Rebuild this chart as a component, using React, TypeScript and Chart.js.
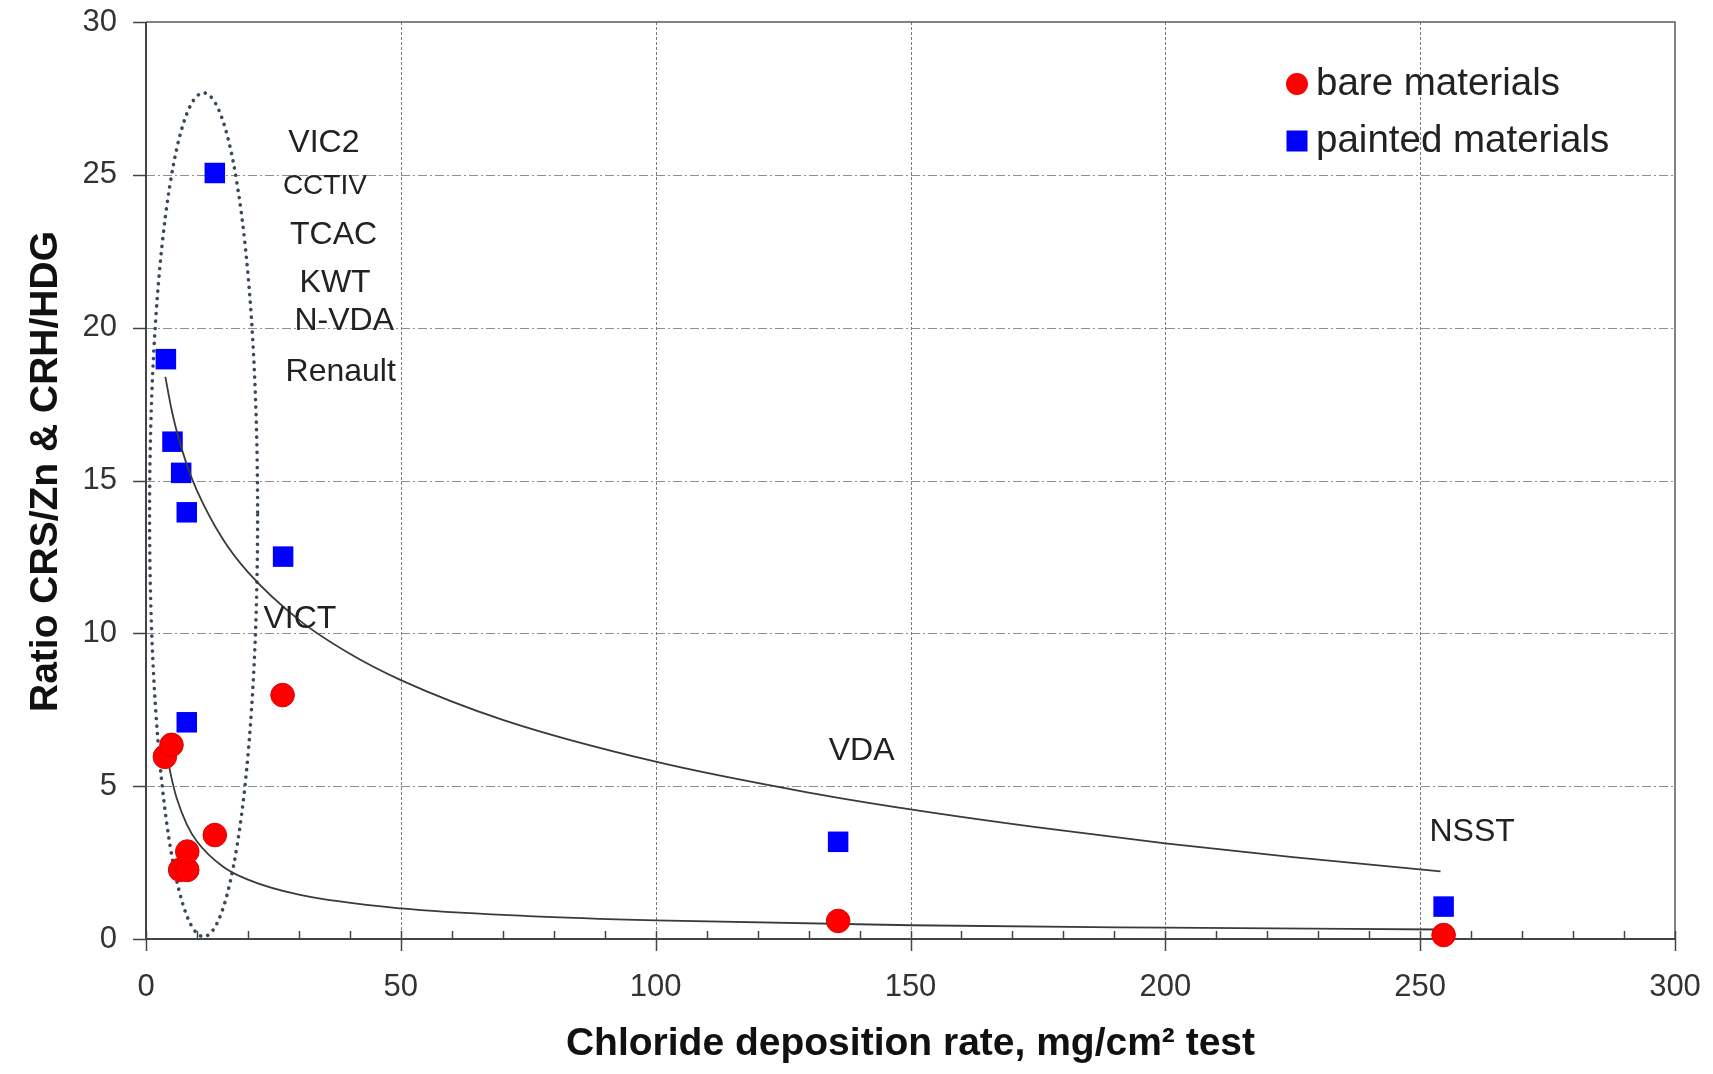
import React, { useEffect, useRef } from 'react';
import { Chart, registerables } from 'chart.js';

Chart.register(...registerables);

// ---- data ----
const bareX = [3.7, 5.0, 6.7, 8.1, 8.1, 13.5, 26.8, 135.8, 254.6];
const bareY = [5.96, 6.35, 2.26, 2.26, 2.86, 3.4, 7.98, 0.59, 0.13];

const paintedX = [13.5, 3.9, 5.2, 6.9, 8.0, 26.9, 8.0, 135.8, 254.6];
const paintedY = [25.06, 18.97, 16.27, 15.25, 13.96, 12.51, 7.09, 3.18, 1.06];

const trendPaintedX = [3.8, 5, 6, 8, 10, 15, 20, 30, 40, 50, 70, 100, 130, 150, 175, 200, 225, 254];
const trendPaintedY = [18.39, 17.33, 16.63, 15.52, 14.67, 13.1, 12.0, 10.44, 9.33, 8.47, 7.17, 5.8, 4.79, 4.24, 3.65, 3.13, 2.68, 2.21];

const trendBareX = [4.4, 5, 6, 8, 10, 15, 20, 30, 50, 75, 100, 150, 200, 254];
const trendBareY = [5.77, 5.27, 4.62, 3.75, 3.19, 2.38, 1.94, 1.45, 1.0, 0.75, 0.61, 0.45, 0.37, 0.31];

const annotationTexts = ['VIC2', 'CCTIV', 'TCAC', 'KWT', 'N-VDA', 'Renault', 'VICT', 'VDA', 'NSST'];
const annotationX = [34.9, 35.1, 36.8, 37.1, 38.9, 38.2, 30.2, 140.4, 260.2];
const annotationY = [26.03, 24.61, 23.03, 21.45, 20.22, 18.53, 10.46, 6.16, 3.51];

// dotted ellipse around the cluster (data units)
const ellipseCenterX = 11.3;
const ellipseCenterY = 13.88;
const ellipseRadiusX = 10.6;
const ellipseRadiusY = 13.8;

const xMin = 0, xMax = 300, xMajorStep = 50, xMinorStep = 10;
const yMin = 0, yMax = 30, yStep = 5;

const seriesLabels = ['bare materials', 'painted materials'];
const xTitle = 'Chloride deposition rate, mg/cm\u00B2 test';
const yTitle = 'Ratio CRS/Zn & CRH/HDG';

// ---- styles ----
const FONT = '"Liberation Sans", Arial, sans-serif';
const RED = '#ff0000';
const BLUE = '#0000ff';
const annotationFontSizes = [32, 28, 32, 32, 32, 32, 32, 32, 32];

const toPoints = (xs: number[], ys: number[]) => xs.map((x, i) => ({ x, y: ys[i] }));

const framePlugin = {
  id: 'framePlugin',
  beforeDatasetsDraw(chart: any) {
    const { ctx, chartArea: a, scales } = chart;
    const xs = scales.x;
    const ys = scales.y;
    ctx.save();
    // horizontal dash-dot grid
    ctx.lineWidth = 1;
    ctx.strokeStyle = '#8f8f8f';
    ctx.setLineDash([9, 3, 2, 3]);
    for (let v = yMin + yStep; v < yMax; v += yStep) {
      const py = Math.round(ys.getPixelForValue(v)) + 0.5;
      ctx.beginPath();
      ctx.moveTo(a.left, py);
      ctx.lineTo(a.right, py);
      ctx.stroke();
    }
    // vertical dotted grid
    ctx.strokeStyle = '#7a7a7a';
    ctx.setLineDash([3, 2]);
    for (let v = xMin + xMajorStep; v < xMax; v += xMajorStep) {
      const px = Math.round(xs.getPixelForValue(v)) + 0.5;
      ctx.beginPath();
      ctx.moveTo(px, a.top);
      ctx.lineTo(px, a.bottom);
      ctx.stroke();
    }
    ctx.setLineDash([]);

    // dotted ellipse
    const ecx = xs.getPixelForValue(ellipseCenterX);
    const ecy = ys.getPixelForValue(ellipseCenterY);
    const erx = Math.abs(xs.getPixelForValue(ellipseCenterX + ellipseRadiusX) - ecx);
    const ery = Math.abs(ys.getPixelForValue(ellipseCenterY + ellipseRadiusY) - ecy);
    ctx.strokeStyle = '#3a495a';
    ctx.lineWidth = 3.6;
    ctx.lineCap = 'round';
    ctx.setLineDash([0.1, 7.4]);
    ctx.beginPath();
    ctx.ellipse(ecx, ecy, erx, ery, 0, 0, Math.PI * 2);
    ctx.stroke();
    ctx.setLineDash([]);
    ctx.lineCap = 'butt';

    // frame top/right
    ctx.strokeStyle = '#5a5a5a';
    ctx.lineWidth = 1.5;
    ctx.beginPath();
    ctx.moveTo(a.left, a.top);
    ctx.lineTo(a.right, a.top);
    ctx.lineTo(a.right, a.bottom);
    ctx.stroke();

    // axes
    ctx.strokeStyle = '#444';
    ctx.lineWidth = 2;
    ctx.beginPath();
    ctx.moveTo(a.left, a.top);
    ctx.lineTo(a.left, a.bottom);
    ctx.lineTo(a.right, a.bottom);
    ctx.stroke();

    // y ticks (outside)
    ctx.lineWidth = 1.5;
    for (let v = yMin; v <= yMax; v += yStep) {
      const py = Math.round(ys.getPixelForValue(v)) + 0.5;
      ctx.beginPath();
      ctx.moveTo(a.left - 13, py);
      ctx.lineTo(a.left, py);
      ctx.stroke();
    }
    // x ticks: major cross, minor inside
    for (let v = xMin; v <= xMax; v += xMinorStep) {
      const px = Math.round(xs.getPixelForValue(v)) + 0.5;
      const major = v % xMajorStep === 0;
      ctx.beginPath();
      ctx.moveTo(px, a.bottom - 8);
      ctx.lineTo(px, a.bottom + (major ? 12 : 0));
      ctx.stroke();
    }
    ctx.restore();
  },
  afterDraw(chart: any) {
    const { ctx, scales, chartArea: a } = chart;
    const xs = scales.x;
    const ys = scales.y;
    ctx.save();
    ctx.fillStyle = '#222';
    ctx.textAlign = 'center';
    ctx.textBaseline = 'middle';
    annotationTexts.forEach((t, i) => {
      ctx.font = `${annotationFontSizes[i]}px ${FONT}`;
      ctx.fillText(t, xs.getPixelForValue(annotationX[i]), ys.getPixelForValue(annotationY[i]));
    });

    // y axis title
    ctx.save();
    ctx.fillStyle = '#111';
    ctx.font = `bold 39px ${FONT}`;
    ctx.translate(46, (a.top + a.bottom) / 2 - 9);
    ctx.rotate(-Math.PI / 2);
    ctx.fillText(yTitle, 0, 0);
    ctx.restore();

    // legend
    const lx = 1297;
    const ly0 = 84;
    const ly1 = 141;
    ctx.fillStyle = RED;
    ctx.beginPath();
    ctx.arc(lx, ly0, 11, 0, Math.PI * 2);
    ctx.fill();
    ctx.fillStyle = BLUE;
    ctx.fillRect(lx - 10.5, ly1 - 10.5, 21, 21);
    ctx.fillStyle = '#222';
    ctx.textAlign = 'left';
    ctx.font = `38.5px ${FONT}`;
    ctx.fillText(seriesLabels[0], lx + 19, ly0);
    ctx.fillText(seriesLabels[1], lx + 19, ly1);
    ctx.restore();
  },
};

export default function App() {
  const canvasRef = useRef<HTMLCanvasElement | null>(null);

  useEffect(() => {
    document.body.style.margin = '0';
    const canvas = canvasRef.current;
    if (!canvas) return;
    const chart = new Chart(canvas, {
      type: 'scatter',
      data: {
        datasets: [
          {
            label: seriesLabels[0],
            data: toPoints(bareX, bareY),
            pointStyle: 'circle',
            pointRadius: 11.8,
            pointHoverRadius: 11.8,
            backgroundColor: RED,
            borderColor: '#e00000',
            borderWidth: 1,
            order: 0,
            clip: false,
          } as any,
          {
            type: 'line',
            label: 'trend painted',
            data: toPoints(trendPaintedX, trendPaintedY),
            showLine: true,
            pointRadius: 0,
            borderColor: '#3a3a3a',
            borderWidth: 1.8,
            cubicInterpolationMode: 'monotone',
            fill: false,
            order: 1,
          } as any,
          {
            type: 'line',
            label: 'trend bare',
            data: toPoints(trendBareX, trendBareY),
            showLine: true,
            pointRadius: 0,
            borderColor: '#3a3a3a',
            borderWidth: 1.8,
            cubicInterpolationMode: 'monotone',
            fill: false,
            order: 1,
          } as any,
          {
            label: seriesLabels[1],
            data: toPoints(paintedX, paintedY),
            pointStyle: 'rect',
            pointRadius: 14.5,
            pointHoverRadius: 14.5,
            backgroundColor: BLUE,
            borderColor: BLUE,
            borderWidth: 0,
            order: 2,
            clip: false,
          } as any,
        ],
      },
      options: {
        animation: false,
        responsive: false,
        devicePixelRatio: 1,
        layout: { padding: { top: 22, right: 38, left: 0, bottom: 0 } },
        plugins: {
          legend: { display: false },
          tooltip: { enabled: false },
        },
        scales: {
          x: {
            type: 'linear',
            min: xMin,
            max: xMax,
            ticks: {
              stepSize: xMajorStep,
              padding: 0,
              color: '#333',
              font: { family: FONT, size: 31 },
            },
            grid: { display: false, drawTicks: true, tickLength: 30 },
            border: { display: false },
            title: {
              display: true,
              text: xTitle,
              color: '#111',
              font: { family: FONT, size: 39, weight: 'bold' },
              padding: { top: 0, bottom: 6 },
            },
            afterFit: (scale: any) => {
              scale.height = 135;
            },
          },
          y: {
            type: 'linear',
            min: yMin,
            max: yMax,
            ticks: {
              stepSize: yStep,
              padding: 0,
              color: '#333',
              font: { family: FONT, size: 31 },
            },
            grid: { display: false, drawTicks: true, tickLength: 29 },
            border: { display: false },
            title: { display: false },
            afterFit: (scale: any) => {
              scale.width = 146;
            },
          },
        },
      } as any,
      plugins: [framePlugin],
    });
    return () => chart.destroy();
  }, []);

  return (
    <div style={{ width: 1713, height: 1074 }}>
      <canvas ref={canvasRef} width={1713} height={1074} style={{ display: 'block' }} />
    </div>
  );
}
